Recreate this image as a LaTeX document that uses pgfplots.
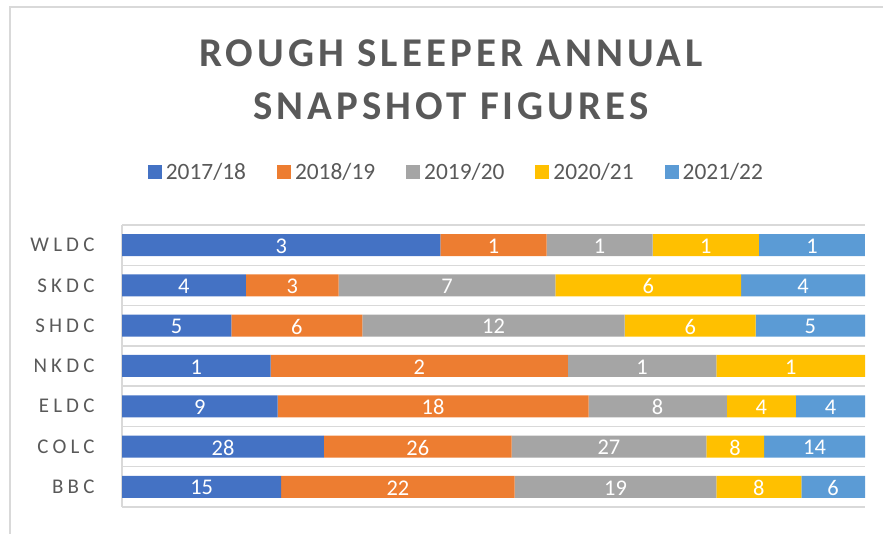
\documentclass[border=0pt]{standalone}
\usepackage{pgfplots}
\pgfplotsset{compat=1.18}
\usepackage{pgfplotstable}
\usepackage{fontspec}
\setmainfont{Carlito}
\newfontfamily\spaced[LetterSpace=20]{Carlito}
\newfontfamily\titlefont[LetterSpace=10]{Carlito}
\definecolor{txt}{HTML}{595959}
\definecolor{gridc}{HTML}{D9D9D9}
\definecolor{cA}{HTML}{4472C4}
\definecolor{cB}{HTML}{ED7D31}
\definecolor{cC}{HTML}{A5A5A5}
\definecolor{cD}{HTML}{FFC000}
\definecolor{cE}{HTML}{5B9BD5}
\pgfplotstableread{
pos name a b c d e tot
0 BBC 15 22 19 8 6 70
1 COLC 28 26 27 8 14 103
2 ELDC 9 18 8 4 4 43
3 NKDC 1 2 1 1 0 5
4 SHDC 5 6 12 6 5 34
5 SKDC 4 3 7 6 4 24
6 WLDC 3 1 1 1 1 7
}\data
\pgfplotsset{
  common/.style={
    at={(122bp,27bp)}, anchor=south west,
    width=743bp, height=282bp, scale only axis,
    xmin=0, xmax=1, ymin=-0.5, ymax=6.5,
    /pgf/number format/assume math mode=true,
  },
  lab/.style={draw=none, mark=none, point meta=explicit,
    nodes near coords={\pgfmathfloatifflags{\pgfplotspointmeta}{0}{}{\pgfmathprintnumber{\pgfplotspointmeta}}},
    every node near coord/.append style={font=\fontsize{22.5}{24}\selectfont, text=white, anchor=center, inner sep=0pt, yshift=-1bp}},
}
\begin{document}
\begin{tikzpicture}[x=1bp,y=1bp]
\useasboundingbox (0,0) rectangle (883,534);
\draw[gridc, line width=1.5bp] (10,0) -- (10,527) -- (883,527);
\node[anchor=base, text=txt, font=\titlefont\bfseries\fontsize{41}{43}\selectfont, inner sep=0] at (451,467) {ROUGH SLEEPER ANNUAL};
\node[anchor=base, text=txt, font=\titlefont\bfseries\fontsize{41}{43}\selectfont, inner sep=0] at (451,414) {SNAPSHOT FIGURES};
\begin{axis}[
  common,
  xbar stacked, bar width=22bp,
  xtick=\empty,
  ytick={0,...,6}, yticklabels={BBC,COLC,ELDC,NKDC,SHDC,SKDC,WLDC},
  minor ytick={-0.5,0.5,...,6.5},
  yminorgrids, minor grid style={gridc, line width=1.5bp},
  axis line style={draw=none},
  major tick length=0pt, minor tick length=0pt,
  yticklabel style={font=\spaced\fontsize{21}{23}\selectfont, text=txt, xshift=-24bp},
  clip=false,
  legend columns=5,
  legend style={at={(0.450,1.188)}, anchor=center, draw=none, fill=none, font=\fontsize{23.5}{25}\selectfont, text=txt,
    /tikz/every odd column/.append style={column sep=2bp},
    /tikz/every even column/.append style={column sep=29bp}},
  legend image code/.code={\fill[#1] (0bp,-7bp) rectangle (14bp,7bp);},
]
\addplot[fill=cA, draw=none] table[y=pos, x expr=\thisrow{a}/\thisrow{tot}] {\data};
\addplot[fill=cB, draw=none] table[y=pos, x expr=\thisrow{b}/\thisrow{tot}] {\data};
\addplot[fill=cC, draw=none] table[y=pos, x expr=\thisrow{c}/\thisrow{tot}] {\data};
\addplot[fill=cD, draw=none] table[y=pos, x expr=\thisrow{d}/\thisrow{tot}] {\data};
\addplot[fill=cE, draw=none] table[y=pos, x expr=\thisrow{e}/\thisrow{tot}] {\data};
\legend{2017/18,2018/19,2019/20,2020/21,2021/22}
\draw[gridc, line width=1.5bp] (rel axis cs:0,0) -- (rel axis cs:0,1);
\end{axis}
\begin{axis}[common, hide axis, clip=false]
\addplot[lab] table[y=pos, x expr=(\thisrow{a}/2)/\thisrow{tot}, meta=a] {\data};
\addplot[lab] table[y=pos, x expr=(\thisrow{a}+\thisrow{b}/2)/\thisrow{tot}, meta=b] {\data};
\addplot[lab] table[y=pos, x expr=(\thisrow{a}+\thisrow{b}+\thisrow{c}/2)/\thisrow{tot}, meta=c] {\data};
\addplot[lab] table[y=pos, x expr=(\thisrow{a}+\thisrow{b}+\thisrow{c}+\thisrow{d}/2)/\thisrow{tot}, meta=d] {\data};
\addplot[lab] table[y=pos, x expr=(\thisrow{a}+\thisrow{b}+\thisrow{c}+\thisrow{d}+\thisrow{e}/2)/\thisrow{tot}, meta=e] {\data};
\end{axis}
\end{tikzpicture}
\end{document}
